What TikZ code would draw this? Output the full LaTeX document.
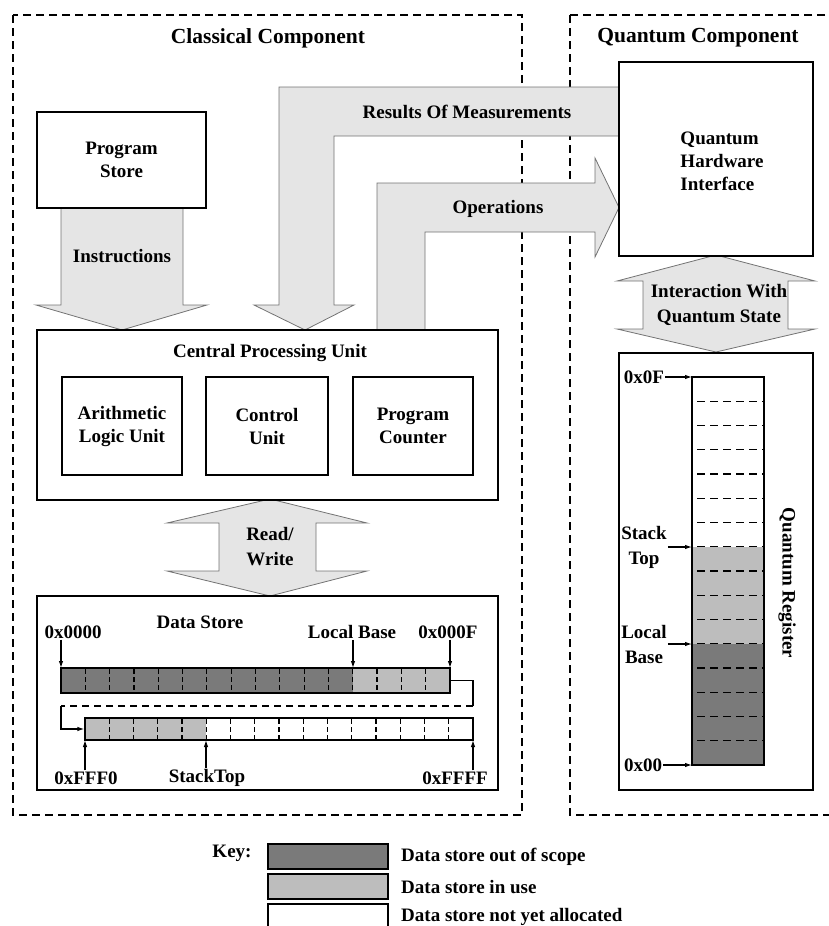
\documentclass[tikz,border=0pt]{standalone}
\usepackage{fontspec}
\setmainfont{Liberation Serif}
\usepackage{tikz}
\usetikzlibrary{arrows.meta}

\newcommand{\lblfont}{\fontsize{19}{23}\selectfont\bfseries}
\newcommand{\ttlfont}{\fontsize{21.5}{25}\selectfont\bfseries}

\begin{document}
\begin{tikzpicture}[x=1pt,y=-1pt,
    box/.style={draw, line width=1.2pt, fill=white, align=center, font=\lblfont},
    blk/.style={draw=black!55, fill=black!10, line width=0.8pt},
    lbl/.style={font=\lblfont, inner sep=1pt, align=center},
    ttl/.style={font=\ttlfont, inner sep=1pt},
    comp/.style={line width=1.1pt, dash pattern=on 8pt off 5pt},
    ptr/.style={-{Latex[length=7pt,width=4.5pt]}, line width=1.1pt},
    wire/.style={line width=1.2pt},
    cell/.style={line width=1.2pt, dash pattern=on 5pt off 3pt, dash phase=-1pt},
    outof/.style={fill=black!52},
    inuse/.style={fill=black!26}]
    \useasboundingbox (0,0) rectangle (829,926);

    % Component frames
    \draw[comp] (13,15) rectangle (522,815);
    \draw[comp] (570,15) rectangle (840,815);
    \node[ttl] (ctitle) at (268,38) {Classical Component};
    \node[ttl] (qtitle) at (698,38) {Quantum Component};

    % Block arrows
    \filldraw[blk] (61,208) -- (61,305) -- (36,305) -- (122,330) -- (207,305) -- (183,305) -- (183,208) -- cycle;
    \filldraw[blk] (619,87) -- (279,87) -- (279,305) -- (254,305) -- (305,330) -- (354,305) -- (334,305) -- (334,136) -- (619,136) -- cycle;
    \filldraw[blk] (377,330) -- (377,183) -- (595,183) -- (595,158) -- (619,207.5) -- (595,257) -- (595,232) -- (425,232) -- (425,330) -- cycle;
    \filldraw[blk] (270,499) -- (367,523) -- (316,523) -- (316,571) -- (367,571) -- (270,596) -- (167,571) -- (219,571) -- (219,523) -- (167,523) -- cycle;
    \filldraw[blk] (716,255) -- (815,281) -- (788,281) -- (788,329) -- (815,329) -- (716,352) -- (617,329) -- (643,329) -- (643,281) -- (617,281) -- cycle;
    \node[lbl] (instr) at (122,256) {Instructions};
    \node[lbl] (meas) at (467,112) {Results Of Measurements};
    \node[lbl] (ops) at (498,209) {Operations};
    \node[lbl, font=\fontsize{19}{25}\selectfont\bfseries] (rw) at (270,547) {Read/\\Write};
    \node[lbl, font=\fontsize{19}{25}\selectfont\bfseries] (inter) at (719,305) {Interaction With\\Quantum State};

    % Nodes
    \node[box, minimum width=169pt, minimum height=96pt] (ps) at (121.5,160) {Program\\Store};
    \node[box, minimum width=461pt, minimum height=170pt] (cpu) at (267.5,415) {};
    \node[lbl] (cputitle) at (270,353) {Central Processing Unit};
    \node[box, minimum width=120pt, minimum height=98pt] (alu) at (122,426) {Arithmetic\\Logic Unit};
    \node[box, minimum width=122pt, minimum height=98pt] (cu) at (267,426) {Control\\Unit};
    \node[box, minimum width=120pt, minimum height=98pt] (pc) at (413,426) {Program\\Counter};
    \node[box, minimum width=194pt, minimum height=194pt] (qhi) at (716,159) {};
    \node[lbl, align=left] (qhitext) at (722,161) {Quantum\\Hardware\\Interface};
    \node[box, minimum width=461pt, minimum height=194pt] (ds) at (267.5,693) {};
    \node[lbl] (dstitle) at (200,622) {Data Store};
    \node[box, minimum width=194pt, minimum height=437pt] (qr) at (716,571.5) {};
    \node[lbl, rotate=-90] (qrtitle) at (787,583) {Quantum Register};

    % Data store rows
    \fill[outof] (61,668) rectangle (353,693);
    \fill[inuse] (353,668) rectangle (450,693);
    \foreach \i in {1,...,15}
        \draw[cell] ({61+24.3125*\i},668) -- ++(0,25);
    \node[draw, line width=1.2pt, minimum width=389pt, minimum height=25pt, inner sep=0pt] (toprow) at (255.5,680.5) {};

    \fill[inuse] (85,718) rectangle (206,740);
    \foreach \i in {1,...,15}
        \draw[cell] ({85+24.25*\i},718) -- ++(0,22);
    \node[draw, line width=1.2pt, minimum width=388pt, minimum height=22pt, inner sep=0pt] (botrow) at (279,729) {};

    \coordinate (wrapR) at (473,706);
    \coordinate (wrapL) at (61,706);
    \draw[wire] (toprow.east) -| (wrapR);
    \draw[wire, dash pattern=on 7pt off 5pt] (wrapR) -- (wrapL);
    \draw[wire, -{Latex[length=7pt,width=4.5pt]}] (wrapL) |- (botrow.west);

    \node[lbl] (a0000) at (73,632) {0x0000};
    \node[lbl] (abase) at (352,632) {Local Base};
    \node[lbl] (a000F) at (448,632) {0x000F};
    \node[lbl] (aFFF0) at (86,778) {0xFFF0};
    \node[lbl] (astack) at (207,778) {StackTop};
    \node[lbl] (aFFFF) at (455,778) {0xFFFF};
    \coordinate (c0000) at (61,668);
    \coordinate (cbase) at (353,668);
    \coordinate (c000F) at (450,668);
    \coordinate (cFFF0) at (85,740);
    \coordinate (cstack) at (206,740);
    \coordinate (cFFFF) at (473,740);

    % Edges
    \draw[ptr] (a0000.south -| c0000) -- (c0000);
    \draw[ptr] (abase.south -| cbase) -- (cbase);
    \draw[ptr] (a000F.south -| c000F) -- (c000F);
    \draw[ptr] (aFFF0.north -| cFFF0) -- (cFFF0);
    \draw[ptr] (astack.north -| cstack) -- (cstack);
    \draw[ptr] (aFFFF.north -| cFFFF) -- (cFFFF);

    % Quantum register
    \fill[inuse] (692,547) rectangle (764,644);
    \fill[outof] (692,644) rectangle (764,765);
    \foreach \i in {1,...,15}
        \draw[cell, dash pattern=on 8pt off 5pt, dash phase=8pt] (692,{377+24.25*\i}) -- (764,{377+24.25*\i});
    \node[draw, line width=1.2pt, minimum width=72pt, minimum height=388pt, inner sep=0pt] (qreg) at (728,571) {};

    \node[lbl] (q0F) at (644,377) {0x0F};
    \node[lbl, font=\fontsize{19}{25}\selectfont\bfseries] (qstack) at (644,547.5) {Stack\\Top};
    \node[lbl, font=\fontsize{19}{25}\selectfont\bfseries] (qbase) at (644,644.5) {Local\\Base};
    \node[lbl] (q00) at (643,765) {0x00};
    \coordinate (r0F) at (692,377);
    \coordinate (rstack) at (692,547);
    \coordinate (rbase) at (692,644);
    \coordinate (r00) at (692,765);
    \draw[ptr] (q0F.east |- r0F) -- (r0F);
    \draw[ptr] (qstack.east |- rstack) -- (rstack);
    \draw[ptr] (qbase.east |- rbase) -- (rbase);
    \draw[ptr] (q00.east |- r00) -- (r00);

    % Key
    \node[lbl] (key) at (232,853) {Key:};
    \draw[line width=1.2pt, outof] (268,844) rectangle (388,869);
    \draw[line width=1.2pt, inuse] (268,874) rectangle (388,899);
    \draw[line width=1.2pt] (268,904) rectangle (388,930);
    \node[lbl, anchor=west] (k1) at (400,857) {Data store out of scope};
    \node[lbl, anchor=west] (k2) at (400,887) {Data store in use};
    \node[lbl, anchor=west] (k3) at (400,917) {Data store not yet allocated};
\end{tikzpicture}
\end{document}
